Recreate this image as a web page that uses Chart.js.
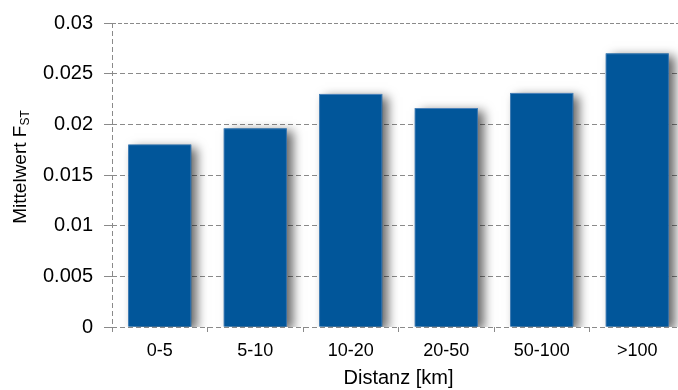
<!DOCTYPE html>
<html>
<head>
<meta charset="utf-8">
<script src="https://cdn.jsdelivr.net/npm/chart.js@4/dist/chart.umd.min.js"></script>
<style>
  html, body { margin: 0; padding: 0; background: #fff; overflow: hidden; }
  #wrap { width: 700px; height: 390px; position: relative; }
</style>
</head>
<body>
<div id="wrap"><canvas id="c"></canvas></div>
<script>
// Distance classes and mean F_ST per class
const categories = ['0-5', '5-10', '10-20', '20-50', '50-100', '>100'];
const meanFst = [0.018, 0.0196, 0.023, 0.0216, 0.0231, 0.027];
const yTicks = [0, 0.005, 0.01, 0.015, 0.02, 0.025, 0.03];
const xTitle = 'Distanz [km]';
const yTitleMain = 'Mittelwert F';
const yTitleSub = 'ST';

const FONT = "'Liberation Sans', Arial, sans-serif";
const GRID = '#8a8a8a';

// Dashed left axis line, denser dashed top frame line, and the y title with subscript
const frame = {
  id: 'frame',
  beforeDatasetsDraw(chart) {
    const {ctx, chartArea: a} = chart;
    ctx.save();
    ctx.strokeStyle = GRID;
    ctx.lineWidth = 1;
    ctx.setLineDash([5, 3]);
    ctx.beginPath();
    ctx.moveTo(a.left + 0.5, a.top);
    ctx.lineTo(a.left + 0.5, a.bottom + 5);
    ctx.stroke();
    ctx.setLineDash([4, 2]);
    ctx.beginPath();
    ctx.moveTo(a.left, a.top + 0.5);
    ctx.lineTo(a.right, a.top + 0.5);
    ctx.stroke();
    ctx.restore();
  },
  afterDraw(chart) {
    const {ctx, chartArea: a} = chart;
    ctx.save();
    ctx.fillStyle = '#000';
    ctx.translate(21, (a.top + a.bottom) / 2 - 8);
    ctx.rotate(-Math.PI / 2);
    ctx.font = '19px ' + FONT;
    const w1 = ctx.measureText(yTitleMain).width;
    ctx.font = '12px ' + FONT;
    const w2 = ctx.measureText(yTitleSub).width;
    const x0 = -(w1 + w2) / 2;
    ctx.textBaseline = 'middle';
    ctx.textAlign = 'left';
    ctx.font = '19px ' + FONT;
    ctx.fillText(yTitleMain, x0, 0);
    ctx.font = '12px ' + FONT;
    ctx.fillText(yTitleSub, x0 + w1, 5);
    ctx.restore();
  }
};

// Soft drop shadow under each bar, cast from the bar geometry the controller computed
const barShadow = {
  id: 'barShadow',
  beforeDatasetsDraw(chart) {
    const ctx = chart.ctx;
    const meta = chart.getDatasetMeta(0);
    ctx.save();
    ctx.beginPath();
    ctx.rect(chart.chartArea.left, 0, chart.width, chart.chartArea.bottom);
    ctx.clip();
    ctx.shadowColor = 'rgba(0,0,0,0.6)';
    ctx.shadowBlur = 10;
    ctx.shadowOffsetX = 6;
    ctx.shadowOffsetY = 3;
    ctx.fillStyle = '#01569a';
    meta.data.forEach(bar => {
      const p = bar.getProps(['x', 'y', 'base', 'width'], true);
      ctx.fillRect(p.x - p.width / 2, p.y, p.width, p.base - p.y);
    });
    ctx.restore();
  }
};

new Chart(document.getElementById('c'), {
  type: 'bar',
  data: {
    labels: categories,
    datasets: [{
      data: meanFst,
      backgroundColor: '#01569a',
      borderColor: '#4a80b8',
      borderWidth: 1,
      barPercentage: 0.66,
      categoryPercentage: 1.0
    }]
  },
  options: {
    responsive: true,
    maintainAspectRatio: false,
    animation: false,
    layout: { padding: { top: 21, right: 15, left: 0, bottom: 0 } },
    plugins: { legend: { display: false }, tooltip: { enabled: false } },
    scales: {
      x: {
        offset: true,
        grid: { display: true, offset: true, drawOnChartArea: false, drawTicks: true, tickLength: 5, tickColor: GRID },
        border: { display: false },
        ticks: { color: '#000', font: { family: FONT, size: 18 }, padding: 8, maxRotation: 0 },
        title: { display: true, text: xTitle, color: '#000', font: { family: FONT, size: 20 }, padding: { top: 2, bottom: 0 } },
        afterFit(s) { s.height = 63; }
      },
      y: {
        min: 0,
        max: 0.03,
        afterBuildTicks(s) { s.ticks = yTicks.map(v => ({ value: v })); },
        grid: {
          color: (c) => c.tick && c.tick.value === 0.03 ? 'rgba(0,0,0,0)' : GRID,
          lineWidth: 1, drawTicks: true, tickLength: 8, tickColor: GRID
        },
        border: { display: false, dash: [5, 3] },
        ticks: { color: '#000', font: { family: FONT, size: 20 }, padding: 11,
          callback: (v) => String(+v.toFixed(4)) },
        afterFit(s) { s.width = 112; }
      }
    }
  },
  plugins: [frame, barShadow]
});
</script>
</body>
</html>
